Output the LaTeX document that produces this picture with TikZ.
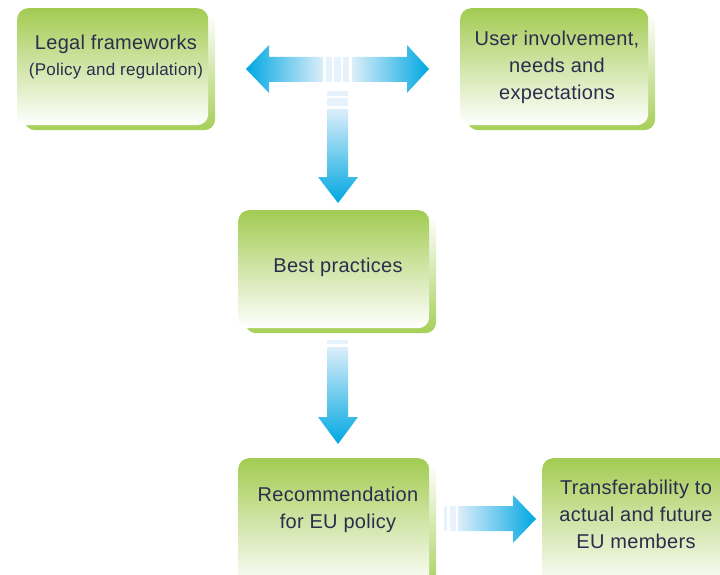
\documentclass[tikz,border=0pt]{standalone}
\usepackage{fontspec}
\setmainfont[LetterSpace=1.5]{Liberation Sans}
\definecolor{gtop}{HTML}{A3CB52}
\definecolor{gshadow}{HTML}{A6CF58}
\definecolor{abl}{HTML}{00A7E1}
\definecolor{alight}{HTML}{DCEEFA}
\definecolor{astripe}{HTML}{E6F3FC}
\definecolor{txt}{HTML}{2B2D4D}
\tikzset{
  gbox/.style={rectangle, rounded corners=11pt, top color=gtop, bottom color=white, draw=none, anchor=north west, inner sep=0pt},
  gshad/.style={rectangle, rounded corners=11pt, top color=white, bottom color=gshadow, draw=none, anchor=north west, inner sep=0pt},
  lbl/.style={text=txt, align=center, inner sep=0pt, font=\fontsize{20}{27}\selectfont},
  stripe/.style={fill=astripe, draw=none},
}
\newcommand\greenbox[5]{%
  \node[gshad, minimum width=#4pt, minimum height=#5pt] (#1s) at ({#2+7},{#3+5}) {};
  \node[gbox, minimum width=#4pt, minimum height=#5pt] (#1) at (#2,#3) {};}
\begin{document}
\begin{tikzpicture}[x=1pt,y=-1pt]
\useasboundingbox (0,0) rectangle (720,575);
\clip (0,0) rectangle (720,575);
% boxes
\greenbox{legal}{17}{8}{191}{117}
\greenbox{user}{460}{8}{188}{117}
\greenbox{best}{238}{210}{191}{118}
\greenbox{rec}{238}{458}{191}{130}
\greenbox{trans}{542}{458}{195}{130}
% texts
\node[lbl] (legalT) at (116,57) {Legal frameworks\\[-1pt]{\fontsize{17}{22}\selectfont(Policy and regulation)}};
\node[lbl] (userT) at (557,67) {User involvement,\\needs and\\expectations};
\node[lbl] (bestT) at (338,267) {Best practices};
\node[lbl] (recT) at (338,510) {Recommendation\\for EU policy};
\node[lbl] (transT) at (636,514) {Transferability to\\actual and future\\EU members};
% T arrow: left half
\shade[left color=abl, right color=alight] (246,69) -- (269,45) -- (269,57) -- (323,57) -- (323,82) -- (269,82) -- (269,93) -- cycle;
% right half
\shade[left color=alight, right color=abl] (429,69) -- (407,45) -- (407,57) -- (352,57) -- (352,82) -- (407,82) -- (407,93) -- cycle;
\path[stripe] (326,57) rectangle (332,82);
\path[stripe] (334,57) rectangle (341,82);
\path[stripe] (343,57) rectangle (349,82);
% down arrow 1
\path[stripe] (327,91) rectangle (348,96);
\path[stripe] (327,98) rectangle (348,106);
\shade[top color=alight, bottom color=abl] (327,109) -- (348,109) -- (348,177) -- (358,177) -- (338,203) -- (318,177) -- (327,177) -- cycle;
% down arrow 2
\path[stripe] (327,340) rectangle (348,344);
\shade[top color=alight, bottom color=abl] (327,347) -- (348,347) -- (348,417) -- (358,417) -- (338,444) -- (318,417) -- (327,417) -- cycle;
% right arrow bottom
\path[stripe] (444,506) rectangle (447,531);
\path[stripe] (450,506) rectangle (456,531);
\shade[left color=alight, right color=abl] (458,506) -- (513,506) -- (513,495) -- (536,519) -- (513,543) -- (513,531) -- (458,531) -- cycle;
\end{tikzpicture}
\end{document}
